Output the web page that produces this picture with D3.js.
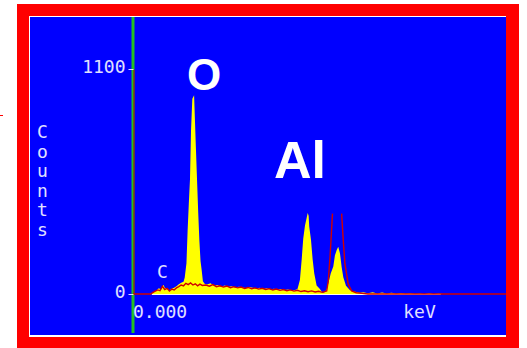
<!DOCTYPE html>
<html>
<head>
<meta charset="utf-8">
<script src="https://cdn.jsdelivr.net/npm/d3@7/dist/d3.min.js"></script>
<style>
  body { margin: 0; background: #fff; }
  svg { display: block; }
</style>
</head>
<body>
<div class="result"></div>
<script>
// Sample spectrum (yellow), energy in keV and counts
const sampleKeV = [0.00, 0.14, 0.16, 0.18, 0.20, 0.22, 0.24, 0.26, 0.27, 0.29, 0.31, 0.33, 0.35, 0.37, 0.39, 0.41, 0.43,
  0.44, 0.455, 0.465, 0.475, 0.485, 0.494, 0.505, 0.52, 0.535, 0.545, 0.555, 0.565, 0.575, 0.585, 0.595, 0.61,
  0.63, 0.66, 0.69, 0.72, 0.75, 0.78, 0.81, 0.84, 0.87, 0.90, 0.93, 0.96, 0.99, 1.02, 1.05, 1.08, 1.11, 1.14,
  1.17, 1.20, 1.23, 1.26, 1.29, 1.32, 1.35, 1.38,
  1.40, 1.41, 1.421, 1.436, 1.449, 1.464, 1.478, 1.487, 1.495, 1.50, 1.515, 1.529, 1.543, 1.563, 1.591, 1.605,
  1.62, 1.635, 1.649, 1.662, 1.683, 1.705, 1.719, 1.734, 1.747, 1.762, 1.776, 1.79, 1.813, 1.847, 1.88, 1.932,
  1.96, 2.00, 2.04, 2.08, 2.12, 2.16, 2.20, 2.24, 2.28, 2.32, 2.36, 2.40, 2.44, 2.48, 2.52, 2.56, 2.60, 2.64, 3.175];
const sampleCounts = [0, 0, 3, 10, 18, 28, 22, 45, 30, 24, 18, 26, 30, 38, 48, 55, 60,
  80, 150, 310, 440, 560, 800, 955, 972, 720, 560, 400, 260, 160, 115, 62, 50,
  46, 52, 40, 44, 36, 42, 35, 38, 30, 36, 33, 28, 34, 30, 26, 31, 25, 28,
  22, 26, 21, 24, 19, 22, 17, 20,
  24, 45, 70, 170, 270, 335, 372, 396, 382, 330, 265, 170, 100, 42, 25, 12,
  6, 10, 25, 50, 100, 135, 190, 215, 231, 198, 132, 82, 40, 18, 12, 6,
  9, 4, 8, 3, 7, 2, 6, 3, 5, 2, 4, 1, 3, 0, 4, 0, 3, 0, 0];

// Reference spectrum (red outline); null = off the top of the display
const refKeV = [0.00, 0.15, 0.17, 0.19, 0.21, 0.23, 0.25, 0.27, 0.29, 0.31, 0.33, 0.35, 0.37, 0.39, 0.41, 0.43,
  0.45, 0.47, 0.49, 0.51, 0.53, 0.55, 0.57, 0.59,
  0.62, 0.65, 0.68, 0.71, 0.74, 0.77, 0.80, 0.83, 0.86, 0.89, 0.92, 0.95, 0.98, 1.01, 1.04, 1.07, 1.10, 1.13,
  1.16, 1.19, 1.22, 1.25, 1.28, 1.31, 1.34, 1.37, 1.40, 1.43, 1.46, 1.49, 1.52, 1.55, 1.58, 1.61,
  1.649, 1.662, 1.677, 1.698, 1.73, 1.776, 1.79, 1.804, 1.832, 1.861, 1.90, 1.95, 2.00, 3.175];
const refCounts = [0, 0, 8, 14, 20, 16, 38, 22, 28, 15, 24, 20, 30, 36, 44, 40,
  52, 46, 54, 44, 50, 40, 48, 42,
  44, 38, 46, 36, 40, 34, 39, 31, 36, 30, 34, 27, 32, 26, 30, 24, 28, 22,
  26, 20, 24, 18, 22, 16, 20, 14, 18, 12, 16, 11, 15, 10, 13, 8,
  15, 64, 178, 393, null, 393, 260, 147, 48, 15, 6, 3, 0, 0];

const yTicks = [0, 1100];
const xStartLabel = '0.000';
const xUnitLabel = 'keV';
const yLabel = 'Counts';
const peakNames = ['O', 'Al'];

// Size
const w = 527;
const h = 348;

const svg = d3.select('.result')
  .append('svg')
  .attr('width', w)
  .attr('height', h);

// Red frame, white edge, blue panel
svg.append('rect').attr('x', 17).attr('y', 4).attr('width', 502).attr('height', 350).attr('fill', '#ff0000');
svg.append('rect').attr('x', 29).attr('y', 16).attr('width', 477).attr('height', 321).attr('fill', '#ffffff');
svg.append('rect').attr('x', 30).attr('y', 17).attr('width', 476).attr('height', 318).attr('fill', '#0000ff');
svg.append('rect').attr('x', 0).attr('y', 115).attr('width', 3).attr('height', 1).attr('fill', '#ff0000');

// Scales
const xScale = d3.scaleLinear().domain([0, 3.175]).range([133, 506]);
const yScale = d3.scaleLinear().domain([0, 1100]).range([294, 69]);

// Green cursor line
svg.append('rect').attr('x', 131.5).attr('y', 17).attr('width', 3).attr('height', 316)
  .attr('fill', '#22c022');

// Yellow spectrum
const sample = sampleKeV.map((e, i) => ({ e: e, c: sampleCounts[i] }));
const area = d3.area()
  .x(d => xScale(d.e))
  .y0(yScale(0))
  .y1(d => yScale(d.c));
svg.append('path')
  .datum(sample)
  .attr('d', area)
  .attr('fill', '#ffff00');

// white baseline under the spectrum
svg.append('line')
  .attr('x1', xScale(0.16)).attr('x2', xScale(2.62))
  .attr('y1', yScale(0) + 0.5).attr('y2', yScale(0) + 0.5)
  .attr('stroke', '#ffffe8');

// Red reference outline
const ref = refKeV.map((e, i) => ({ e: e, c: refCounts[i] }));
const line = d3.line()
  .defined(d => d.c !== null)
  .x(d => xScale(d.e))
  .y(d => yScale(d.c));
svg.append('path')
  .datum(ref)
  .attr('d', line)
  .attr('fill', 'none')
  .attr('stroke', '#d00000')
  .attr('stroke-width', 1.4);

// Y axis
const yAxis = d3.axisLeft(yScale)
  .tickValues(yTicks)
  .tickFormat(d3.format('d'))
  .tickSize(5)
  .tickSizeOuter(0)
  .tickPadding(3);
const gy = svg.append('g')
  .attr('transform', 'translate(' + 133.5 + ',0)')
  .call(yAxis);
gy.select('.domain').attr('stroke', '#b00000');
gy.selectAll('.tick line').attr('stroke', '#e0e0ff');
gy.selectAll('.tick text')
  .attr('fill', '#e0e0ff')
  .attr('dy', '0.22em')
  .style('font-family', 'DejaVu Sans Mono')
  .style('font-size', '18px');

const monoText = function (x, y, s, anchor) {
  return svg.append('text')
    .attr('x', x).attr('y', y)
    .attr('text-anchor', anchor || 'start')
    .attr('fill', '#e0e0ff')
    .style('font-family', 'DejaVu Sans Mono')
    .style('font-size', '18px')
    .text(s);
};

// X labels
monoText(xScale(0), 318, xStartLabel);
monoText(419.5, 318, xUnitLabel, 'middle');

// Vertical "Counts"
yLabel.split('').forEach(function (ch, i) {
  monoText(42.5, 138 + i * 19.6, ch, 'middle');
});

// small C label
monoText(xScale(0.25), 278, 'C', 'middle');

// Element labels
svg.append('text')
  .attr('x', xScale(0.605)).attr('y', 90)
  .attr('text-anchor', 'middle')
  .attr('fill', '#ffffff')
  .style('font-family', 'Liberation Sans')
  .style('font-weight', 'bold')
  .style('font-size', '44px')
  .text(peakNames[0]);
svg.append('text')
  .attr('x', 274).attr('y', 178)
  .attr('fill', '#ffffff')
  .style('font-family', 'Liberation Sans')
  .style('font-weight', 'bold')
  .style('font-size', '52px')
  .text(peakNames[1]);
</script>
</body>
</html>
